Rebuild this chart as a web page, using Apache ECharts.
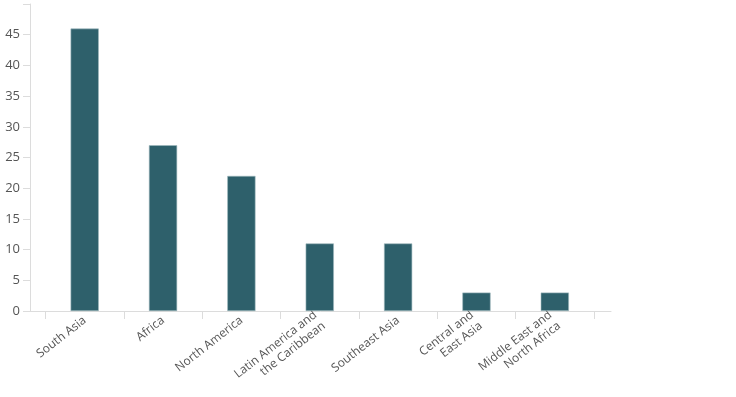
<!DOCTYPE html>
<html>
<head>
<meta charset="utf-8">
<script src="https://cdn.jsdelivr.net/npm/echarts@6/dist/echarts.min.js"></script>
<style>
  html, body { margin: 0; padding: 0; background: #fff; }
  #main { width: 736px; height: 397px; }
</style>
</head>
<body>
<div id="main"></div>
<script>
// Data
// ----------
var regions = [
    'South Asia',
    'Africa',
    'North America',
    'Latin America and\nthe Caribbean',
    'Southeast Asia',
    'Central and\nEast Asia',
    'Middle East and\nNorth Africa'
]
var counts = [46, 27, 22, 11, 11, 3, 3]

var yMin = 0,
    yMax = 50,
    yStep = 5

var labelColor = '#555'
var lineColor = '#dcdcdc'

var chart = echarts.init(document.getElementById('main'))

// grid 0 carries the y axis and the long base line,
// grid 1 holds the bars and the category ticks
var option = {
    animation: false,
    textStyle: { fontFamily: 'Open Sans' },
    grid: [
        { left: 30, right: 125, top: 4, bottom: 86 },
        { left: 45.5, right: 142, top: 4, bottom: 86 }
    ],
    xAxis: [{
        gridIndex: 0,
        type: 'value',
        min: 0,
        max: 1,
        axisLine: { show: true, lineStyle: { color: lineColor } },
        axisTick: { show: false },
        axisLabel: { show: false },
        splitLine: { show: false }
    }, {
        gridIndex: 1,
        type: 'category',
        data: regions,
        axisLine: { show: false },
        axisTick: { show: true, length: 8, lineStyle: { color: lineColor } },
        axisLabel: {
            rotate: 38,
            margin: 8,
            color: labelColor,
            fontSize: 12,
            lineHeight: 14,
            interval: 0
        }
    }],
    yAxis: [{
        gridIndex: 0,
        type: 'value',
        min: yMin,
        max: yMax,
        interval: yStep,
        axisLine: { show: true, lineStyle: { color: lineColor } },
        axisTick: { show: true, length: 7, lineStyle: { color: lineColor } },
        axisLabel: {
            color: labelColor,
            fontSize: 13,
            margin: 10,
            formatter: function (v) { return v === yMax ? '' : v }
        },
        splitLine: { show: false }
    }, {
        gridIndex: 1,
        type: 'value',
        min: yMin,
        max: yMax,
        show: false
    }],
    series: [{
        type: 'bar',
        xAxisIndex: 1,
        yAxisIndex: 1,
        data: counts,
        barWidth: '36%',
        itemStyle: {
            color: '#2e606b',
            borderColor: '#9fb9be',
            borderWidth: 0.6
        }
    }]
}

chart.setOption(option)
</script>
</body>
</html>
